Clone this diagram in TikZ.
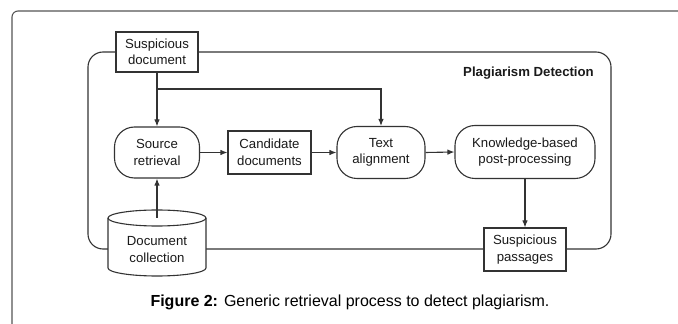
\documentclass[tikz,border=0pt]{standalone}
\usepackage{fontspec}
\setmainfont{Liberation Sans}
\usetikzlibrary{arrows.meta}
\definecolor{linegray}{HTML}{333333}
\definecolor{framegray}{HTML}{555555}
\definecolor{inkblack}{HTML}{1A1A1A}
\tikzset{
  lbl/.style={font=\fontsize{13.2}{16.5}\selectfont, text=inkblack, align=center, inner sep=0pt},
  box/.style={lbl, draw=linegray, line width=1.1pt, fill=white},
  stage/.style={box, rounded corners=20pt},
  flow/.style={draw=linegray, line width=1.1pt, -{Latex[length=7pt,width=5.5pt]}},
}
\begin{document}
\begin{tikzpicture}[x=1pt,y=1pt]
\useasboundingbox (0,0) rectangle (678,324);
% page frame, open to the right and below
\draw[framegray, line width=1.1pt, rounded corners=6pt] (12,-10) -- (12,313) -- (690,313);
% plagiarism detection frame
\draw[linegray, line width=1.1pt, rounded corners=15pt] (88,75) rectangle (611,272);
\node[lbl, font=\fontsize{13.2}{16}\selectfont\bfseries, anchor=east] (title) at (594,251) {Plagiarism Detection};
% document collection (cylinder)
\filldraw[draw=linegray, fill=white, line width=1.1pt]
  (108,106) -- (108,56) arc[start angle=180, end angle=360, x radius=49, y radius=8]
  -- (206,106) arc[start angle=0, end angle=180, x radius=49, y radius=8] -- cycle;
\draw[linegray, line width=1.1pt] (108,106) arc[start angle=180, end angle=360, x radius=49, y radius=8];
\node[lbl] (coll) at (157,74.5) {Document\\collection};
\coordinate (colltop) at (157,106);
% boxes and stages
\node[box, minimum width=82pt, minimum height=40pt] (susdoc) at (157,272) {Suspicious\\document};
\node[stage, minimum width=85pt, minimum height=51pt] (src) at (157,171.5) {Source\\retrieval};
\node[box, minimum width=83pt, minimum height=43pt] (cand) at (269.5,171.5) {Candidate\\documents};
\node[stage, minimum width=88pt, minimum height=52pt] (txt) at (381,171.5) {Text\\alignment};
\node[stage, minimum width=140pt, minimum height=53pt] (know) at (525,172) {Knowledge-based\\post-processing};
\node[box, minimum width=82pt, minimum height=43pt] (pass) at (525,74.5) {Suspicious\\passages};
\coordinate (branch) at (157,235);
% connectors
\draw[flow] (susdoc.south) -- (src.north);
\draw[flow] (branch) -| (txt.north);
\draw[flow] (colltop) -- (src.south);
\draw[flow] (src.east) -- (cand.west);
\draw[flow] (cand.east) -- (txt.west);
\draw[flow] (txt.east) -- (know.west);
\draw[flow] (know.south) -- (pass.north);
% caption
\node[font=\fontsize{16}{19}\selectfont, text=black, inner sep=0pt] (caption) at (350,22)
  {\textbf{Figure 2:} Generic retrieval process to detect plagiarism.};
\end{tikzpicture}
\end{document}
